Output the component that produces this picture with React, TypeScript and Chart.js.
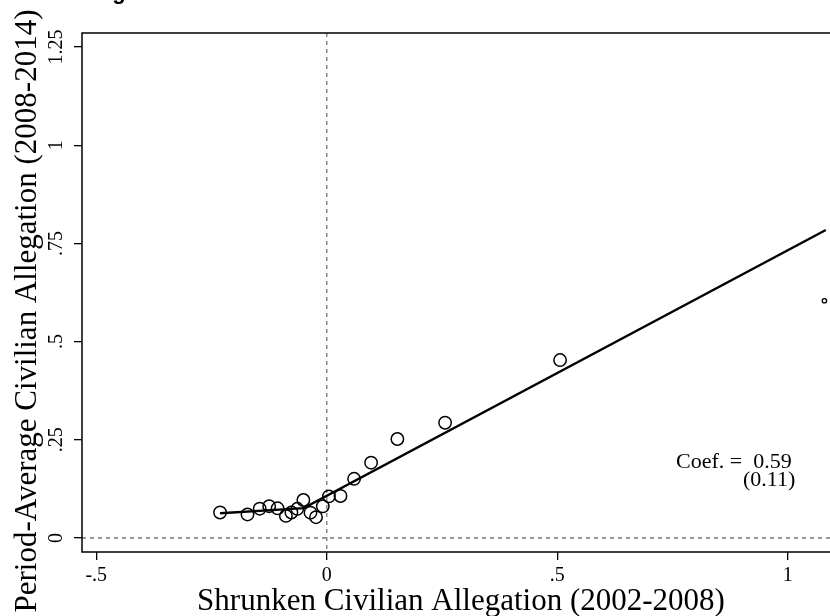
import React, { useEffect, useRef } from "react";
import { Chart, registerables } from "chart.js";
Chart.register(...registerables);

// Binned scatter (bin means)
const binX = [-0.2315, -0.172, -0.1455, -0.125, -0.1067, -0.0887, -0.0768, -0.064, -0.0508, -0.0354, -0.0234, -0.0087, 0.0046, 0.0297, 0.0592, 0.0961, 0.1531, 0.2566, 0.506];
const binY = [0.065, 0.06, 0.0746, 0.081, 0.0756, 0.0563, 0.065, 0.0743, 0.0967, 0.0644, 0.053, 0.0807, 0.106, 0.107, 0.1507, 0.1917, 0.252, 0.2935, 0.453];
// Last bin (small marker)
const lastBinX = [1.0794];
const lastBinY = [0.604];
// Fitted line
const fitX = [-0.2315, -0.05, 1.0824];
const fitY = [0.063, 0.076, 0.784];
// Axis ticks
const xTicks = [-0.5, 0, 0.5, 1];
const yTicks = [0, 0.25, 0.5, 0.75, 1, 1.25];
// Texts
const xTitle = "Shrunken Civilian Allegation (2002-2008)";
const yTitle = "Period-Average Civilian Allegation (2008-2014)";
const coefLine1 = "Coef. =  0.59";
const coefLine2 = "(0.11)";
const topTitle = "Allegations in 2008-2014 vs. 2002-2008";

const SERIF = '"Liberation Serif", "Times New Roman", serif';

const fmt = (v: number) => {
  if (v === 0) return "0";
  return String(v).replace(/^(-?)0\./, "$1.");
};

const overlay = {
  id: "stataOverlay",
  beforeDatasetsDraw(chart: any) {
    const { ctx, chartArea: a, scales } = chart;
    const x0 = scales.x.getPixelForValue(0);
    const y0 = scales.y.getPixelForValue(0);
    ctx.save();
    ctx.strokeStyle = "#777777";
    ctx.lineWidth = 1.3;
    ctx.setLineDash([4, 4]);
    ctx.beginPath();
    ctx.moveTo(x0, a.top);
    ctx.lineTo(x0, a.bottom);
    ctx.moveTo(a.left, y0);
    ctx.lineTo(a.right, y0);
    ctx.stroke();
    ctx.restore();
  },
  afterDraw(chart: any) {
    const { ctx, chartArea: a, scales } = chart;
    ctx.save();
    // plot region box
    ctx.strokeStyle = "#000";
    ctx.lineWidth = 1.5;
    ctx.setLineDash([]);
    ctx.strokeRect(a.left, a.top, a.right - a.left, a.bottom - a.top);

    ctx.fillStyle = "#000";
    // x tick labels
    ctx.font = `20px ${SERIF}`;
    ctx.textAlign = "center";
    ctx.textBaseline = "alphabetic";
    scales.x.ticks.forEach((t: any) => {
      const px = scales.x.getPixelForValue(t.value);
      ctx.fillText(fmt(t.value), px, 581);
    });
    // y tick labels (rotated)
    scales.y.ticks.forEach((t: any) => {
      const py = scales.y.getPixelForValue(t.value);
      ctx.save();
      ctx.translate(62, py);
      ctx.rotate(-Math.PI / 2);
      ctx.fillText(fmt(t.value), 0, 0);
      ctx.restore();
    });
    // axis titles
    ctx.font = `31px ${SERIF}`;
    ctx.textAlign = "center";
    ctx.fillText(xTitle, 461, 610);
    ctx.save();
    ctx.translate(36, 311);
    ctx.rotate(-Math.PI / 2);
    ctx.fillText(yTitle, 0, 0);
    ctx.restore();
    // coefficient note
    ctx.font = `22px ${SERIF}`;
    ctx.textAlign = "left";
    ctx.fillText(coefLine1, 676, 468);
    ctx.fillText(coefLine2, 743, 486);
    // cut-off title at top
    ctx.font = `bold 22px "Liberation Sans", Arial, sans-serif`;
    ctx.fillText(topTitle, 72, -1.5);
    ctx.restore();
  },
};

export default function App() {
  const ref = useRef<HTMLCanvasElement | null>(null);
  useEffect(() => {
    if (!ref.current) return;
    const xMin = -0.531;
    const xMax = 1.1132;
    const yMin = -0.03564;
    const yMax = 1.28564;
    const chart = new Chart(ref.current, {
      type: "scatter",
      data: {
        datasets: [
          {
            type: "line",
            data: fitX.map((x, i) => ({ x, y: fitY[i] })),
            borderColor: "#000",
            borderWidth: 2.4,
            pointRadius: 0,
            fill: false,
            tension: 0,
          } as any,
          {
            data: binX.map((x, i) => ({ x, y: binY[i] })),
            pointStyle: "circle",
            pointRadius: 6.2,
            borderColor: "#000",
            borderWidth: 1.5,
            backgroundColor: "rgba(0,0,0,0)",
          },
          {
            data: lastBinX.map((x, i) => ({ x, y: lastBinY[i] })),
            pointStyle: "circle",
            pointRadius: 2.2,
            borderColor: "#000",
            borderWidth: 1.3,
            backgroundColor: "rgba(0,0,0,0)",
          },
        ],
      },
      options: {
        responsive: false,
        animation: false,
        devicePixelRatio: 1,
        layout: { padding: { top: 33, right: 20, bottom: 0, left: 0 } },
        plugins: { legend: { display: false }, tooltip: { enabled: false } },
        scales: {
          x: {
            type: "linear",
            position: "bottom",
            min: xMin,
            max: xMax,
            afterBuildTicks: (s: any) => {
              s.ticks = xTicks.map((v) => ({ value: v }));
            },
            afterFit: (s: any) => {
              s.height = 64;
            },
            ticks: { display: false },
            grid: {
              display: true,
              drawOnChartArea: false,
              drawTicks: true,
              tickLength: 8,
              color: "#000",
              tickColor: "#000",
              lineWidth: 1.3,
            },
            border: { display: false },
          },
          y: {
            type: "linear",
            position: "left",
            min: yMin,
            max: yMax,
            afterBuildTicks: (s: any) => {
              s.ticks = yTicks.map((v) => ({ value: v }));
            },
            afterFit: (s: any) => {
              s.width = 82;
            },
            ticks: { display: false },
            grid: {
              display: true,
              drawOnChartArea: false,
              drawTicks: true,
              tickLength: 8,
              color: "#000",
              tickColor: "#000",
              lineWidth: 1.3,
            },
            border: { display: false },
          },
        },
      },
      plugins: [overlay],
    });
    return () => chart.destroy();
  }, []);
  return (
    <div
      style={{
        position: "fixed",
        left: 0,
        top: 0,
        width: 830,
        height: 616,
        overflow: "hidden",
        background: "#fff",
      }}
    >
      <canvas ref={ref} width={860} height={616} style={{ display: "block", width: 860, height: 616 }} />
    </div>
  );
}
